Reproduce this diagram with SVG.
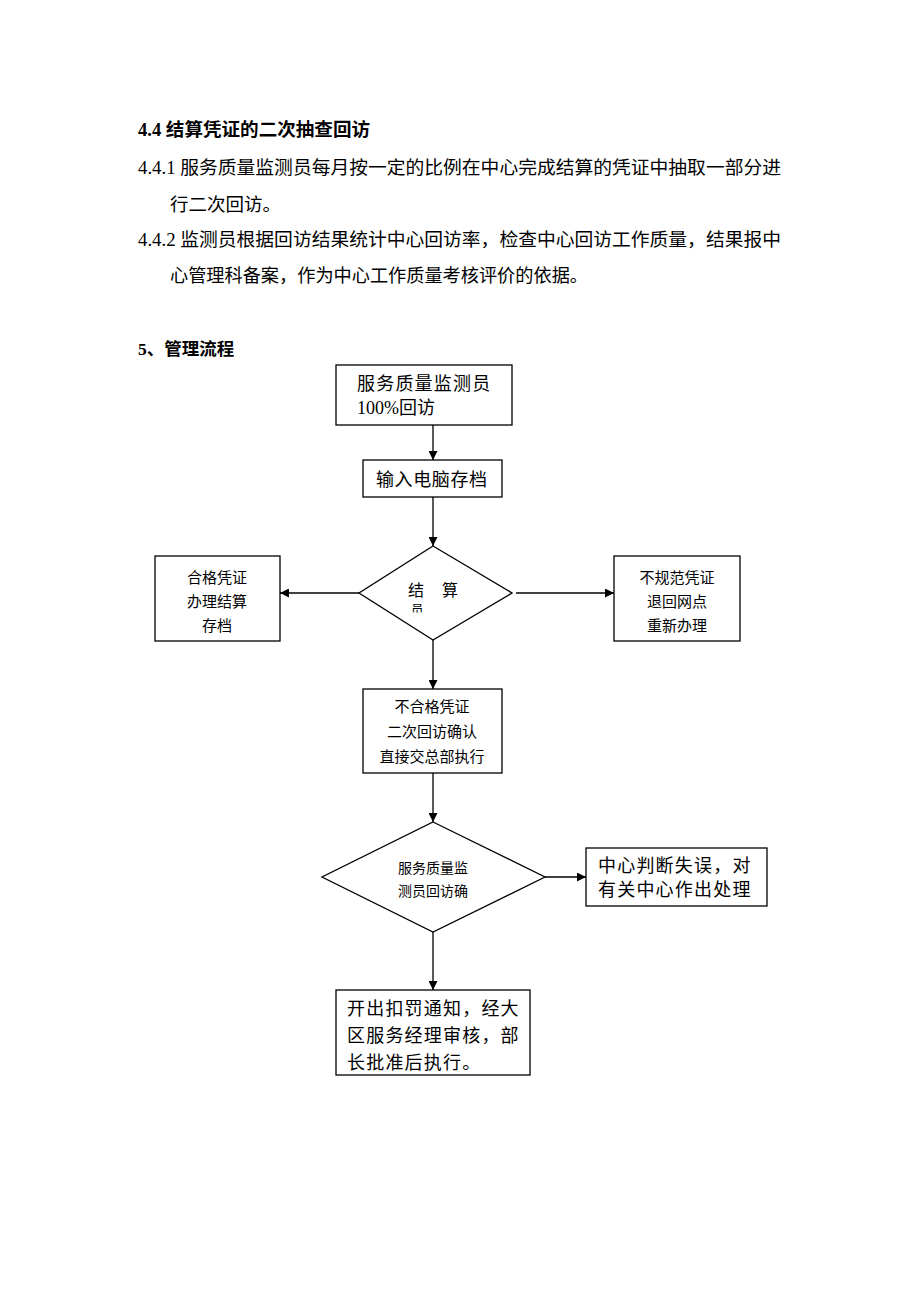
<svg xmlns="http://www.w3.org/2000/svg" width="920" height="1302" viewBox="0 0 920 1302">
<style>
.t{font-family:"Liberation Serif","Noto Sans CJK SC",serif;fill:#000}
.b{font-weight:bold}
.w{letter-spacing:1.2px}
.n{fill:#fff;stroke:#000;stroke-width:1.3}
.c{stroke:#000;stroke-width:1.3;fill:none}
</style>
<defs>
<marker id="ah" markerWidth="9" markerHeight="9" refX="9" refY="4.5" orient="auto" markerUnits="userSpaceOnUse">
<path d="M0,0 L9,4.5 L0,9 z" fill="#000"/>
</marker>
<clipPath id="cl"><rect x="405" y="600" width="30" height="12.5"/></clipPath>
</defs>
<rect width="920" height="1302" fill="#fff"/>
<g id="text-body">
<text class="t b" x="138" y="136" font-size="18" textLength="232" lengthAdjust="spacingAndGlyphs">4.4 结算凭证的二次抽查回访</text>
<text class="t" x="138" y="174" font-size="18.5" textLength="643" lengthAdjust="spacingAndGlyphs">4.4.1 服务质量监测员每月按一定的比例在中心完成结算的凭证中抽取一部分进</text>
<text class="t" x="170" y="211" font-size="18.5">行二次回访。</text>
<text class="t" x="138" y="246" font-size="18.5" textLength="643" lengthAdjust="spacingAndGlyphs">4.4.2 监测员根据回访结果统计中心回访率，检查中心回访工作质量，结果报中</text>
<text class="t" x="170" y="282" font-size="18.5" textLength="418" lengthAdjust="spacingAndGlyphs">心管理科备案，作为中心工作质量考核评价的依据。</text>
<text class="t b" x="138" y="355" font-size="17.5">5、管理流程</text>
</g>
<g id="connectors">
<line class="c" x1="433" y1="425" x2="433" y2="460" marker-end="url(#ah)"/>
<line class="c" x1="433" y1="497" x2="433" y2="546" marker-end="url(#ah)"/>
<line class="c" x1="359" y1="593" x2="280" y2="593" marker-end="url(#ah)"/>
<line class="c" x1="516" y1="593" x2="614" y2="593" marker-end="url(#ah)"/>
<line class="c" x1="433" y1="640" x2="433" y2="689" marker-end="url(#ah)"/>
<line class="c" x1="433" y1="773" x2="433" y2="822" marker-end="url(#ah)"/>
<line class="c" x1="545" y1="877" x2="586" y2="877" marker-end="url(#ah)"/>
<line class="c" x1="433" y1="932" x2="433" y2="990" marker-end="url(#ah)"/>
</g>
<g id="n1">
<rect class="n" x="336" y="365" width="176" height="60"/>
<text class="t w" x="357" y="390" font-size="18" letter-spacing="1.5">服务质量监测员</text>
<text class="t" x="357" y="414" font-size="18">100%回访</text>
</g>
<g id="n2">
<rect class="n" x="363" y="460" width="139" height="37"/>
<text class="t" x="376" y="486" font-size="18" letter-spacing="0.6">输入电脑存档</text>
</g>
<g id="d1">
<polygon class="n" points="433,546 512,593 433,640 359,593"/>
<text class="t" x="408" y="596" font-size="16">结</text>
<text class="t" x="442" y="596" font-size="16">算</text>
<text class="t" x="411" y="614" font-size="12.5" clip-path="url(#cl)">员</text>
</g>
<g id="n3">
<rect class="n" x="155" y="556" width="125" height="85"/>
<text class="t" x="217" y="583" font-size="15" text-anchor="middle">合格凭证</text>
<text class="t" x="217" y="607" font-size="15" text-anchor="middle">办理结算</text>
<text class="t" x="217" y="631" font-size="15" text-anchor="middle">存档</text>
</g>
<g id="n4">
<rect class="n" x="614" y="556" width="126" height="85"/>
<text class="t" x="677" y="583" font-size="15" text-anchor="middle">不规范凭证</text>
<text class="t" x="677" y="607" font-size="15" text-anchor="middle">退回网点</text>
<text class="t" x="677" y="631" font-size="15" text-anchor="middle">重新办理</text>
</g>
<g id="n5">
<rect class="n" x="363" y="689" width="139" height="84"/>
<text class="t" x="432" y="712" font-size="15" text-anchor="middle">不合格凭证</text>
<text class="t" x="432" y="737" font-size="15" text-anchor="middle">二次回访确认</text>
<text class="t" x="432" y="762" font-size="15" text-anchor="middle">直接交总部执行</text>
</g>
<g id="d2">
<polygon class="n" points="433,822 545,877 433,932 322,877"/>
<text class="t" x="433" y="873" font-size="14" text-anchor="middle">服务质量监</text>
<text class="t" x="433" y="896" font-size="14" text-anchor="middle">测员回访确</text>
</g>
<g id="n6">
<rect class="n" x="586" y="848" width="181" height="58"/>
<text class="t w" x="598" y="872" font-size="18">中心判断失误，对</text>
<text class="t w" x="598" y="896" font-size="18">有关中心作出处理</text>
</g>
<g id="n7">
<rect class="n" x="336" y="990" width="194" height="85"/>
<text class="t w" x="347" y="1015" font-size="18">开出扣罚通知，经大</text>
<text class="t w" x="347" y="1042" font-size="18">区服务经理审核，部</text>
<text class="t w" x="347" y="1069" font-size="18">长批准后执行。</text>
</g>
</svg>
